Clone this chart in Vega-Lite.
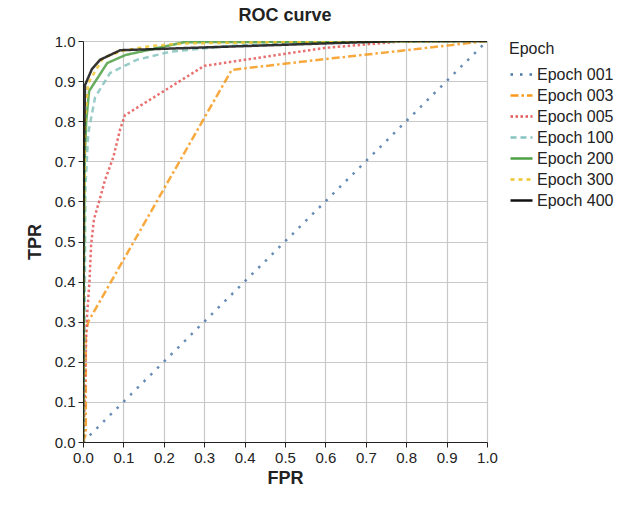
{
  "$schema": "https://vega.github.io/schema/vega-lite/v6.json",
  "width": 404,
  "height": 401,
  "autosize": "none",
  "padding": {"left": 83, "top": 41, "right": 145, "bottom": 65},
  "background": "white",
  "title": {"text": "ROC curve", "fontSize": 18, "fontWeight": "bold", "font": "Liberation Sans", "color": "#222", "offset": 9},
  "config": {
    "font": "Liberation Sans",
    "view": {"stroke": null},
    "axis": {
      "gridColor": "#c8c8c8", "gridWidth": 1.2,
      "domainColor": "#222", "tickColor": "#222", "tickSize": 5,
      "labelFontSize": 15, "labelColor": "#222", "labelFont": "Liberation Sans",
      "titleFontSize": 18, "titleFontWeight": "bold", "titleColor": "#222", "titleFont": "Liberation Sans"
    }
  },
  "data": {"values": [
    {"Epoch": "Epoch 001", "i": 0, "FPR": 0, "TPR": 0},
    {"Epoch": "Epoch 001", "i": 1, "FPR": 1, "TPR": 1},

    {"Epoch": "Epoch 003", "i": 0, "FPR": 0, "TPR": 0},
    {"Epoch": "Epoch 003", "i": 1, "FPR": 0.007, "TPR": 0.02},
    {"Epoch": "Epoch 003", "i": 2, "FPR": 0.007, "TPR": 0.27},
    {"Epoch": "Epoch 003", "i": 3, "FPR": 0.013, "TPR": 0.3},
    {"Epoch": "Epoch 003", "i": 4, "FPR": 0.368, "TPR": 0.928},
    {"Epoch": "Epoch 003", "i": 5, "FPR": 0.6, "TPR": 0.955},
    {"Epoch": "Epoch 003", "i": 6, "FPR": 0.8, "TPR": 0.977},
    {"Epoch": "Epoch 003", "i": 7, "FPR": 1, "TPR": 1},

    {"Epoch": "Epoch 005", "i": 0, "FPR": 0, "TPR": 0},
    {"Epoch": "Epoch 005", "i": 1, "FPR": 0.002, "TPR": 0.02},
    {"Epoch": "Epoch 005", "i": 2, "FPR": 0.005, "TPR": 0.15},
    {"Epoch": "Epoch 005", "i": 3, "FPR": 0.009, "TPR": 0.3},
    {"Epoch": "Epoch 005", "i": 4, "FPR": 0.016, "TPR": 0.4},
    {"Epoch": "Epoch 005", "i": 5, "FPR": 0.02, "TPR": 0.49},
    {"Epoch": "Epoch 005", "i": 6, "FPR": 0.027, "TPR": 0.555},
    {"Epoch": "Epoch 005", "i": 7, "FPR": 0.04, "TPR": 0.6},
    {"Epoch": "Epoch 005", "i": 8, "FPR": 0.055, "TPR": 0.655},
    {"Epoch": "Epoch 005", "i": 9, "FPR": 0.075, "TPR": 0.71},
    {"Epoch": "Epoch 005", "i": 10, "FPR": 0.092, "TPR": 0.78},
    {"Epoch": "Epoch 005", "i": 11, "FPR": 0.104, "TPR": 0.815},
    {"Epoch": "Epoch 005", "i": 12, "FPR": 0.2, "TPR": 0.875},
    {"Epoch": "Epoch 005", "i": 13, "FPR": 0.3, "TPR": 0.938},
    {"Epoch": "Epoch 005", "i": 14, "FPR": 0.4, "TPR": 0.953},
    {"Epoch": "Epoch 005", "i": 15, "FPR": 0.6, "TPR": 0.983},
    {"Epoch": "Epoch 005", "i": 16, "FPR": 0.78, "TPR": 0.998},
    {"Epoch": "Epoch 005", "i": 17, "FPR": 1, "TPR": 1},

    {"Epoch": "Epoch 100", "i": 0, "FPR": 0, "TPR": 0},
    {"Epoch": "Epoch 100", "i": 1, "FPR": 0.004, "TPR": 0.3},
    {"Epoch": "Epoch 100", "i": 2, "FPR": 0.006, "TPR": 0.636},
    {"Epoch": "Epoch 100", "i": 3, "FPR": 0.013, "TPR": 0.77},
    {"Epoch": "Epoch 100", "i": 4, "FPR": 0.03, "TPR": 0.86},
    {"Epoch": "Epoch 100", "i": 5, "FPR": 0.067, "TPR": 0.92},
    {"Epoch": "Epoch 100", "i": 6, "FPR": 0.133, "TPR": 0.953},
    {"Epoch": "Epoch 100", "i": 7, "FPR": 0.215, "TPR": 0.973},
    {"Epoch": "Epoch 100", "i": 8, "FPR": 0.364, "TPR": 0.988},
    {"Epoch": "Epoch 100", "i": 9, "FPR": 0.6, "TPR": 0.997},
    {"Epoch": "Epoch 100", "i": 10, "FPR": 1, "TPR": 1},

    {"Epoch": "Epoch 200", "i": 0, "FPR": 0, "TPR": 0},
    {"Epoch": "Epoch 200", "i": 1, "FPR": 0.002, "TPR": 0.4},
    {"Epoch": "Epoch 200", "i": 2, "FPR": 0.004, "TPR": 0.7},
    {"Epoch": "Epoch 200", "i": 3, "FPR": 0.008, "TPR": 0.8},
    {"Epoch": "Epoch 200", "i": 4, "FPR": 0.015, "TPR": 0.875},
    {"Epoch": "Epoch 200", "i": 5, "FPR": 0.06, "TPR": 0.945},
    {"Epoch": "Epoch 200", "i": 6, "FPR": 0.105, "TPR": 0.965},
    {"Epoch": "Epoch 200", "i": 7, "FPR": 0.25, "TPR": 0.997},
    {"Epoch": "Epoch 200", "i": 8, "FPR": 1, "TPR": 1},

    {"Epoch": "Epoch 300", "i": 0, "FPR": 0, "TPR": 0},
    {"Epoch": "Epoch 300", "i": 1, "FPR": 0.002, "TPR": 0.5},
    {"Epoch": "Epoch 300", "i": 2, "FPR": 0.005, "TPR": 0.8},
    {"Epoch": "Epoch 300", "i": 3, "FPR": 0.013, "TPR": 0.895},
    {"Epoch": "Epoch 300", "i": 4, "FPR": 0.05, "TPR": 0.958},
    {"Epoch": "Epoch 300", "i": 5, "FPR": 0.1, "TPR": 0.976},
    {"Epoch": "Epoch 300", "i": 6, "FPR": 0.17, "TPR": 0.988},
    {"Epoch": "Epoch 300", "i": 7, "FPR": 0.257, "TPR": 0.994},
    {"Epoch": "Epoch 300", "i": 8, "FPR": 0.6, "TPR": 0.999},
    {"Epoch": "Epoch 300", "i": 9, "FPR": 1, "TPR": 1},

    {"Epoch": "Epoch 400", "i": 0, "FPR": 0, "TPR": 0},
    {"Epoch": "Epoch 400", "i": 1, "FPR": 0.002, "TPR": 0.7},
    {"Epoch": "Epoch 400", "i": 2, "FPR": 0.005, "TPR": 0.89},
    {"Epoch": "Epoch 400", "i": 3, "FPR": 0.022, "TPR": 0.93},
    {"Epoch": "Epoch 400", "i": 4, "FPR": 0.042, "TPR": 0.953},
    {"Epoch": "Epoch 400", "i": 5, "FPR": 0.092, "TPR": 0.977},
    {"Epoch": "Epoch 400", "i": 6, "FPR": 0.78, "TPR": 1.0},
    {"Epoch": "Epoch 400", "i": 7, "FPR": 1, "TPR": 1}
  ]},
  "mark": {"type": "line", "strokeWidth": 2.5, "strokeOpacity": 0.85, "clip": true},
  "encoding": {
    "x": {"field": "FPR", "type": "quantitative", "scale": {"domain": [0, 1], "nice": false},
      "axis": {"values": [0, 0.1, 0.2, 0.3, 0.4, 0.5, 0.6, 0.7, 0.8, 0.9, 1], "format": ".1f", "labelPadding": 3, "titlePadding": 4, "labelFlush": false}},
    "y": {"field": "TPR", "type": "quantitative", "scale": {"domain": [0, 1], "nice": false},
      "axis": {"values": [0, 0.1, 0.2, 0.3, 0.4, 0.5, 0.6, 0.7, 0.8, 0.9, 1], "format": ".1f", "labelPadding": 3, "titlePadding": 10, "labelFlush": false}},
    "order": {"field": "i", "type": "quantitative"},
    "color": {"field": "Epoch", "type": "nominal",
      "scale": {"domain": ["Epoch 001", "Epoch 003", "Epoch 005", "Epoch 100", "Epoch 200", "Epoch 300", "Epoch 400"],
        "range": ["#4c78a8", "#f79a1c", "#e45756", "#86c3be", "#4fa044", "#efc630", "#111111"]},
      "legend": {"title": "Epoch", "orient": "right", "offset": 22, "symbolType": "stroke", "symbolSize": 484, "symbolStrokeWidth": 2.5,
        "labelFontSize": 16, "titleFontSize": 16, "titleFontWeight": "normal", "titleColor": "#222", "labelColor": "#222",
        "labelFont": "Liberation Sans", "titleFont": "Liberation Sans", "clipHeight": 19, "rowPadding": 2, "labelOffset": 3, "titlePadding": 8}},
    "strokeDash": {"field": "Epoch", "type": "nominal",
      "scale": {"domain": ["Epoch 001", "Epoch 003", "Epoch 005", "Epoch 100", "Epoch 200", "Epoch 300", "Epoch 400"],
        "range": [[2.5, 7], [8, 3, 2.5, 3], [2.5, 2.5], [6, 4], [1, 0], [4, 4], [1, 0]]}}
  }
}
